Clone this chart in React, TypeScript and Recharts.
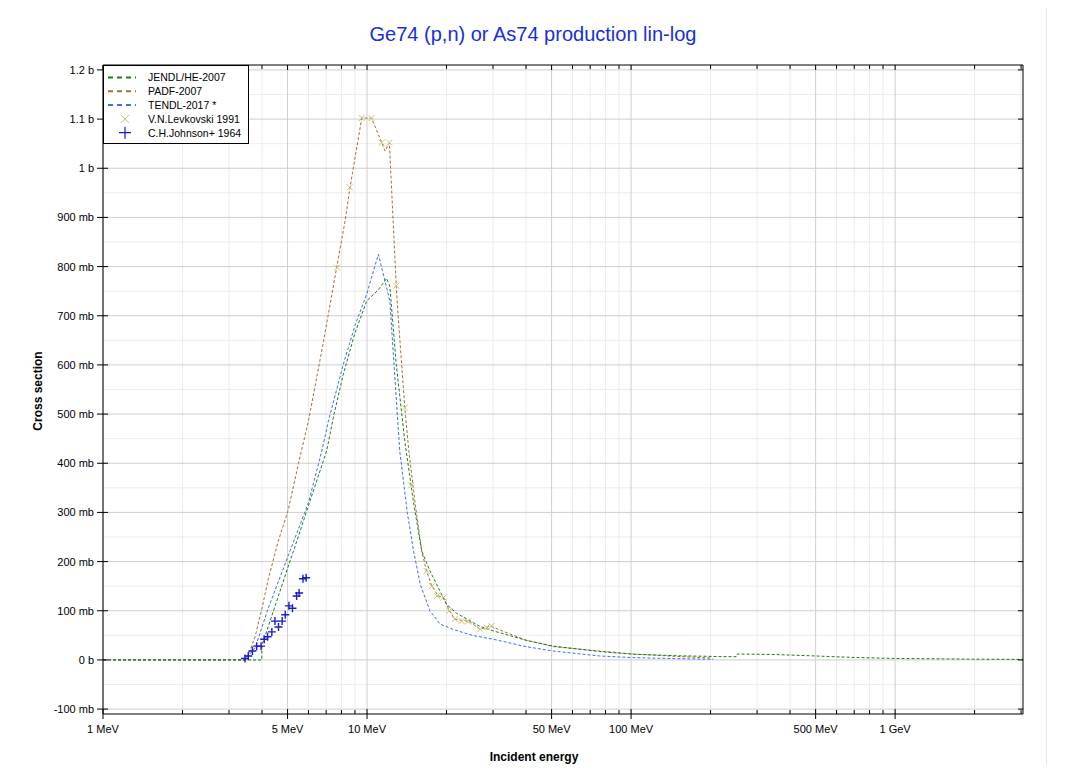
import React from "react";
import { ComposedChart, Line, Scatter, XAxis, YAxis, CartesianGrid } from "recharts";

// energies in MeV, cross sections in mb
const JENDL_E = [1, 3.99, 4.0, 4.5, 5.0, 5.5, 6.0, 6.5, 7.03, 7.5, 8.13, 9.0, 9.97, 11.0, 11.87, 12.2, 12.9, 13.9, 15.0, 16.1, 17.3, 18.5, 20.0, 21.8, 23.9, 26.8, 30.1, 40, 50.8, 76, 102, 150, 217, 250, 252, 350, 500, 700, 1000, 2000, 3050];
const JENDL_XS = [0, 0, 30, 112, 186, 252, 314, 370, 425, 500, 581, 665, 730, 752, 776, 760, 601, 445, 320, 222, 181, 150, 113, 95, 83, 68, 59, 40, 28, 17, 11.6, 8.5, 6.8, 6.5, 12, 11, 8, 5, 3, 1.5, 1];

const PADF_E = [1, 3.45, 3.6, 3.77, 4.0, 4.23, 4.6, 5.03, 5.5, 6.0, 6.8, 7.67, 8.26, 8.62, 9.55, 10.4, 11.37, 11.7, 12.15, 12.9, 13.1, 13.9, 14.4, 15.2, 16.1, 16.8, 17.6, 18.6, 19.5, 20.5, 21.5, 24.5, 26.8, 29.2, 40, 50.8, 76, 102, 150, 200];
const PADF_XS = [0, 0, 18, 48, 105, 165, 240, 305, 400, 486, 640, 798, 893, 961, 1102, 1102, 1052, 1035, 1052, 761, 703, 513, 425, 320, 222, 181, 150, 130, 127, 100, 83, 78, 62, 69, 40, 27, 18, 12, 7, 4];

const TENDL_E = [1, 3.45, 3.77, 4.23, 5.03, 6.0, 6.74, 7.14, 8.13, 9.0, 9.97, 11.04, 12.2, 13.3, 14.2, 15.0, 15.9, 17.3, 18.9, 21.2, 25, 30.1, 40, 50.8, 76, 102, 150, 205];
const TENDL_XS = [0, 0, 25, 106, 212, 320, 425, 486, 601, 680, 744, 825, 730, 425, 300, 222, 154, 100, 73, 62, 50, 42, 27, 18, 8, 4.7, 2.5, 1.4];

const LEVKOVSKI_E = [7.7, 8.6, 9.55, 10.4, 11.37, 12.15, 12.9, 13.9, 14.7, 16.8, 17.6, 18.4, 19.5, 20.5, 21.5, 22.8, 24.1, 26.8, 28.4, 29.6];
const LEVKOVSKI_XS = [798, 961, 1102, 1102, 1052, 1052, 761, 513, 355, 181, 150, 130, 127, 100, 83, 79, 78, 62, 66, 69];

const JOHNSON_E = [3.45, 3.55, 3.68, 3.82, 3.97, 4.08, 4.2, 4.36, 4.48, 4.62, 4.77, 4.9, 5.06, 5.22, 5.41, 5.53, 5.72, 5.88];
const JOHNSON_XS = [3, 8, 18, 28, 28, 42, 47, 57, 79, 67, 79, 92, 110, 105, 130, 136, 165, 167];

const X_TICKS = [1, 2, 3, 4, 5, 6, 7, 8, 9, 10, 20, 30, 40, 50, 60, 70, 80, 90, 100, 200, 300, 400, 500, 600, 700, 800, 900, 1000, 2000, 3000];
const X_MAJOR = [1, 5, 10, 50, 100, 500, 1000];
const X_LABELS: Record<number, string> = { 1: "1 MeV", 5: "5 MeV", 10: "10 MeV", 50: "50 MeV", 100: "100 MeV", 500: "500 MeV", 1000: "1 GeV" };
const Y_TICKS = [-100, 0, 100, 200, 300, 400, 500, 600, 700, 800, 900, 1000, 1100, 1200];
const Y_MINOR = [-50, 50, 150, 250, 350, 450, 550, 650, 750, 850, 950, 1050, 1150];

const COLORS = { jendl: "#1b7d1b", padf: "#a56f3a", tendl: "#3f6ef0", lev: "#c9c372", john: "#1c1cc4" };
const FONT = "Arial, 'Liberation Sans', sans-serif";

const zip = (e: number[], v: number[]) => e.map((x, i) => ({ x, y: v[i] }));
const jendl = zip(JENDL_E, JENDL_XS);
const padf = zip(PADF_E, PADF_XS);
const tendl = zip(TENDL_E, TENDL_XS);
const lev = zip(LEVKOVSKI_E, LEVKOVSKI_XS);
const john = zip(JOHNSON_E, JOHNSON_XS);

const yLabel = (v: number) => (v === 0 ? "0 b" : Math.abs(v) >= 1000 ? `${v / 1000} b` : `${v} mb`);

const BottomTick = (p: any) => {
  const { x, y, payload } = p;
  const major = X_MAJOR.includes(payload.value);
  return (
    <g>
      <line x1={x} x2={x} y1={y - (major ? 5 : 4)} y2={y + (major ? 5 : 0)} stroke="#000" />
      {X_LABELS[payload.value] && (
        <text x={x} y={y + 19} textAnchor="middle" fontSize={11} fontFamily={FONT} fill="#000">
          {X_LABELS[payload.value]}
        </text>
      )}
    </g>
  );
};

const TopTick = (p: any) => {
  const { x, y, payload } = p;
  const major = X_MAJOR.includes(payload.value);
  return <line x1={x} x2={x} y1={y} y2={y + (major ? 5 : 4)} stroke="#000" />;
};

const LeftTick = (p: any) => {
  const { x, y, payload } = p;
  return (
    <g>
      <line x1={x - 6} x2={x + 5} y1={y} y2={y} stroke="#000" />
      <text x={x - 9} y={y} dy={4} textAnchor="end" fontSize={11} fontFamily={FONT} fill="#000">
        {yLabel(payload.value)}
      </text>
    </g>
  );
};

const RightTick = (p: any) => {
  const { x, y } = p;
  return <line x1={x - 5} x2={x} y1={y} y2={y} stroke="#000" />;
};

const Cross = (p: any) => {
  const { cx, cy } = p;
  const s = 3;
  return (
    <path d={`M${cx - s},${cy - s}L${cx + s},${cy + s}M${cx - s},${cy + s}L${cx + s},${cy - s}`} stroke={COLORS.lev} strokeWidth={1} fill="none" />
  );
};

const Plus = (p: any) => {
  const { cx, cy } = p;
  const s = 4;
  return (
    <path d={`M${cx - s},${cy}L${cx + s},${cy}M${cx},${cy - s}L${cx},${cy + s}`} stroke={COLORS.john} strokeWidth={1.4} fill="none" />
  );
};

const LEGEND = [
  { name: "JENDL/HE-2007", color: COLORS.jendl, kind: "line" },
  { name: "PADF-2007", color: COLORS.padf, kind: "line" },
  { name: "TENDL-2017 *", color: COLORS.tendl, kind: "line" },
  { name: "V.N.Levkovski 1991", color: COLORS.lev, kind: "x" },
  { name: "C.H.Johnson+ 1964", color: COLORS.john, kind: "+" },
];

function LegendBox() {
  return (
    <svg width={146} height={79} style={{ position: "absolute", left: 103, top: 64 }}>
      <rect x={0.5} y={0.5} width={145} height={78} fill="#fff" stroke="#000" />
      {LEGEND.map((l, i) => {
        const cy = 12.5 + i * 13.8;
        return (
          <g key={l.name}>
            {l.kind === "line" && <line x1={5} x2={33} y1={cy} y2={cy} stroke={l.color} strokeWidth={2} strokeDasharray="5 4" />}
            {l.kind === "x" && <path d={`M${18},${cy - 4}L${26},${cy + 4}M${18},${cy + 4}L${26},${cy - 4}`} stroke={l.color} fill="none" />}
            {l.kind === "+" && <path d={`M${16},${cy}L${28},${cy}M${22},${cy - 6}L${22},${cy + 6}`} stroke={l.color} strokeWidth={1.2} fill="none" />}
            <text x={45} y={cy} dy={3.8} fontSize={10.5} fontFamily={FONT} fill="#000">
              {l.name}
            </text>
          </g>
        );
      })}
    </svg>
  );
}

export default function App() {
  return (
    <div style={{ position: "relative", width: 1047, height: 773, margin: -8, borderRight: "1px solid #e6e6e6", borderTop: "1px solid #eeeeee", boxSizing: "border-box", background: "#fff" }}>
      <div style={{ position: "absolute", left: 0, width: 1066, top: 22, textAlign: "center", fontFamily: FONT, fontSize: 20, color: "#1a2fd6" }}>
        Ge74 (p,n) or As74 production lin-log
      </div>
      <div style={{ position: "absolute", left: 0, width: 1068, top: 749, textAlign: "center", fontFamily: FONT, fontSize: 12, fontWeight: "bold" }}>
        Incident energy
      </div>
      <div style={{ position: "absolute", left: 38, top: 390, transform: "translate(-50%, -50%) rotate(-90deg)", whiteSpace: "nowrap", fontFamily: FONT, fontSize: 12, fontWeight: "bold" }}>
        Cross section
      </div>
      <div style={{ position: "absolute", left: 0, top: 0 }}>
        <ComposedChart width={1047} height={773} margin={{ top: 60, right: 20, bottom: 30, left: 43 }}>
          <XAxis xAxisId="b" dataKey="x" type="number" scale="log" domain={[1, 3050]} allowDataOverflow ticks={X_TICKS} interval={0} orientation="bottom" height={30} tickSize={0} tickMargin={0} tickLine={false} axisLine={{ stroke: "#000" }} tick={<BottomTick />} />
          <XAxis xAxisId="t" dataKey="x" type="number" scale="log" domain={[1, 3050]} allowDataOverflow ticks={X_TICKS} interval={0} orientation="top" height={4} tickSize={0} tickMargin={0} tickLine={false} axisLine={{ stroke: "#000" }} tick={<TopTick />} />
          <YAxis yAxisId="l" dataKey="y" type="number" domain={[-110, 1210]} allowDataOverflow ticks={Y_TICKS} interval={0} width={60} tickSize={0} tickMargin={0} tickLine={false} axisLine={{ stroke: "#000" }} tick={<LeftTick />} />
          <YAxis yAxisId="r" dataKey="y" type="number" orientation="right" domain={[-110, 1210]} allowDataOverflow ticks={Y_TICKS} interval={0} width={4} tickSize={0} tickMargin={0} tickLine={false} axisLine={{ stroke: "#000" }} tick={<RightTick />} />
          <CartesianGrid xAxisId="b" yAxisId="l" stroke="#ececec" horizontalValues={Y_MINOR} verticalValues={X_TICKS.filter((v) => !X_MAJOR.includes(v))} />
          <CartesianGrid xAxisId="b" yAxisId="l" stroke="#cfcfcf" horizontalValues={Y_TICKS} verticalValues={X_MAJOR} />
          <Line xAxisId="b" yAxisId="l" data={tendl} dataKey="y" type="linear" stroke={COLORS.tendl} strokeWidth={1} strokeDasharray="3 2" dot={false} isAnimationActive={false} />
          <Line xAxisId="b" yAxisId="l" data={padf} dataKey="y" type="linear" stroke={COLORS.padf} strokeWidth={1} strokeDasharray="3 2" dot={false} isAnimationActive={false} />
          <Line xAxisId="b" yAxisId="l" data={jendl} dataKey="y" type="linear" stroke={COLORS.jendl} strokeWidth={1} strokeDasharray="3 2" dot={false} isAnimationActive={false} />
          <Scatter xAxisId="b" yAxisId="l" data={lev} dataKey="y" shape={<Cross />} isAnimationActive={false} />
          <Scatter xAxisId="b" yAxisId="l" data={john} dataKey="y" shape={<Plus />} isAnimationActive={false} />
        </ComposedChart>
      </div>
      <LegendBox />
    </div>
  );
}
